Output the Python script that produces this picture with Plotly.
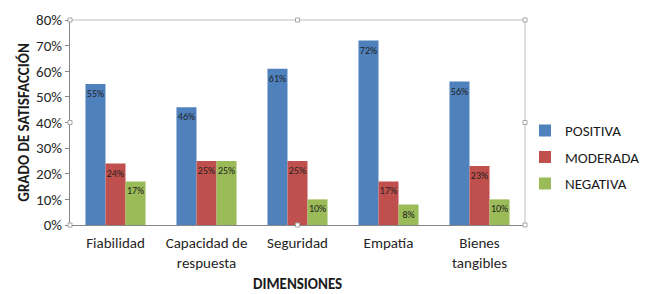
import plotly.graph_objects as go

categories = ["Fiabilidad", "Capacidad de<br>respuesta", "Seguridad", "Empatía", "Bienes<br>tangibles"]
positiva = [0.55, 0.46, 0.61, 0.72, 0.56]
moderada = [0.24, 0.25, 0.25, 0.17, 0.23]
negativa = [0.17, 0.25, 0.10, 0.08, 0.10]
series_names = ["POSITIVA", "MODERADA", "NEGATIVA"]
colors = ["#4F81BD", "#C0504D", "#9BBB59"]
y_ticks = [0, 0.1, 0.2, 0.3, 0.4, 0.5, 0.6, 0.7, 0.8]

FONT = "Carlito, Liberation Sans Narrow, Liberation Sans, DejaVu Sans, sans-serif"

fig = go.Figure()
for name, vals, col in zip(series_names, [positiva, moderada, negativa], colors):
    fig.add_trace(go.Bar(
        x=categories, y=vals, name=name, legendgroup=name,
        marker=dict(color=col, line=dict(width=0)),
        text=[f"{round(v*100)}%" for v in vals],
        textposition="inside", insidetextanchor="end", textangle=0,
        constraintext="none",
        textfont=dict(size=10, color="#1f1f1f", family=FONT),
        hoverinfo="skip",
    ))

L, R, T, B = 70, 147, 20, 69
fig.update_layout(
    width=672, height=294,
    margin=dict(l=L, r=R, t=T, b=B),
    paper_bgcolor="white", plot_bgcolor="white",
    barmode="group", bargap=0.34, bargroupgap=0,
    font=dict(family=FONT, size=15, color="#262626"),
    showlegend=True,
    legend=dict(x=1.0, y=0.33, xanchor="left", yanchor="middle",
                font=dict(size=15, family=FONT, color="#1a1a1a"),
                tracegroupgap=4, itemwidth=30,
                bgcolor="rgba(0,0,0,0)"),
    xaxis=dict(showline=True, linecolor="#868686", linewidth=1,
               ticks="", tickfont=dict(size=15), showgrid=False,
               ticklabelstandoff=4, fixedrange=True),
    yaxis=dict(range=[0, 0.8], tickvals=y_ticks, tickformat=".0%",
               showgrid=False, showline=True, linecolor="#868686", linewidth=1,
               ticks="outside", ticklen=4, tickcolor="#868686",
               tickfont=dict(size=15), zeroline=False, fixedrange=True),
    annotations=[
        dict(text="<b>GRADO DE SATISFACCIÓN</b>", x=-0.103, y=0.5, xref="paper", yref="paper",
             xanchor="center", yanchor="middle",
             textangle=-90, showarrow=False, font=dict(size=15, family=FONT, color="#1a1a1a")),
        dict(text="<b>DIMENSIONES</b>", x=0.5, y=-0.29, xref="paper", yref="paper",
             xanchor="center", showarrow=False, yanchor="middle",
             font=dict(size=15, family=FONT, color="#1a1a1a")),
    ],
)

# plot-area selection frame (top and right edges) and handles
fig.add_shape(type="line", xref="paper", yref="paper", x0=0, x1=1, y0=1, y1=1,
              line=dict(color="#BFBFBF", width=1))
fig.add_shape(type="line", xref="paper", yref="paper", x0=1, x1=1, y0=0, y1=1,
              line=dict(color="#BFBFBF", width=1))
for hx, hy in [(0, 0), (0.5, 0), (1, 0), (0, 0.5), (1, 0.5), (0, 1), (0.5, 1), (1, 1)]:
    fig.add_shape(type="rect", xref="paper", yref="paper", xsizemode="pixel", ysizemode="pixel",
                  xanchor=hx, yanchor=hy, x0=-2, x1=2, y0=-2, y1=2,
                  line=dict(color="#A6A6A6", width=1), fillcolor="white")

fig.write_html("out.html", config={"displayModeBar": False},
               post_script="document.body.style.margin='0';document.body.style.padding='0';")
